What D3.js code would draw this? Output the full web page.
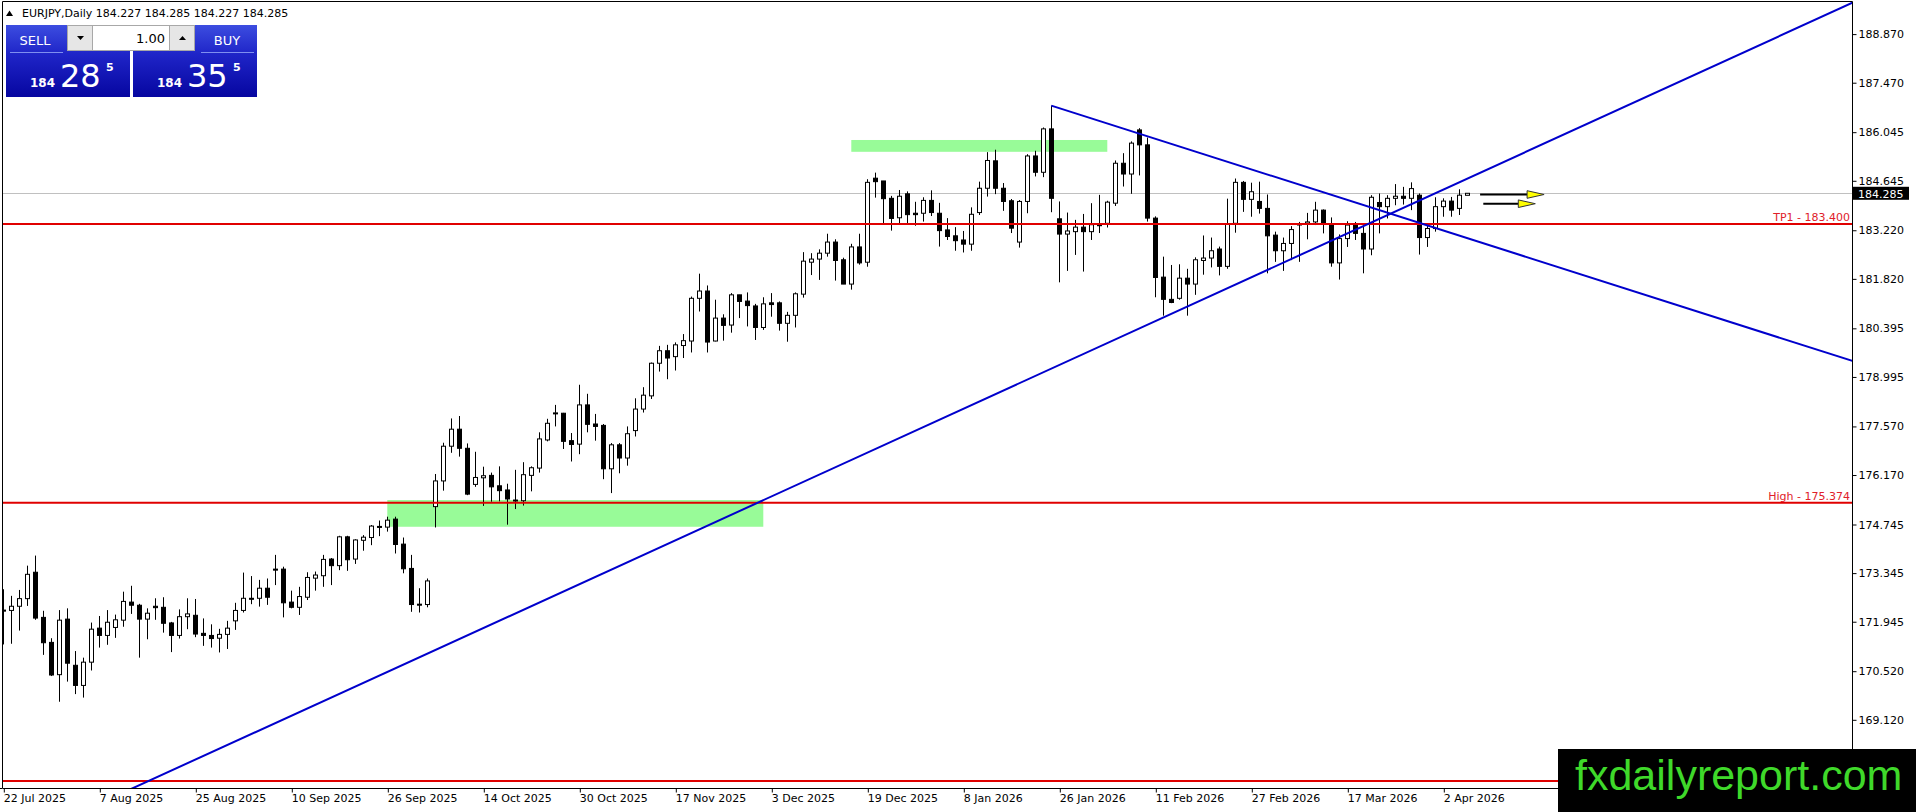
<!DOCTYPE html>
<html>
<head>
<meta charset="utf-8">
<script src="https://cdn.jsdelivr.net/npm/d3@7"></script>
<style>
  body { margin: 0; background: #fff; overflow: hidden; }
  svg { display: block; }
  text { font-family: "DejaVu Sans", sans-serif; }
</style>
</head>
<body>
<svg id="chart" width="1916" height="812"></svg>
<script>
// EURJPY daily bars, one entry per bar (bar 0 = 22 Jul 2025)
var open = [172.28,172.27,172.39,172.61,173.37,172.07,171.35,170.42,172.02,170.69,
  170.11,170.78,171.76,171.55,171.78,171.99,172.51,172.42,172.02,172.39,
  172.36,171.91,171.55,172.09,172.13,171.61,171.55,171.47,171.58,171.97,
  172.27,172.62,172.62,172.91,173.46,173.46,172.51,172.36,172.65,173.20,
  173.27,173.75,173.56,174.39,173.75,174.29,174.37,174.69,174.67,174.90,
  174.18,173.48,172.45,172.44,175.26,176.00,177.00,177.49,176.94,175.90,
  176.09,176.16,175.86,175.74,175.45,175.43,176.16,176.37,177.18,177.94,
  177.95,177.16,177.06,178.19,177.64,177.60,176.35,177.04,176.66,177.45,
  178.07,178.45,179.39,179.75,179.58,179.90,180.03,181.26,181.47,180.03,
  180.69,180.49,181.36,181.18,181.04,180.42,181.13,181.13,180.54,180.77,
  181.38,182.30,182.39,182.56,182.88,182.37,181.67,182.74,182.30,184.72,
  184.64,184.14,183.58,184.27,183.71,183.71,184.08,183.71,183.23,183.06,
  182.94,182.82,183.73,184.43,185.22,184.43,184.07,182.88,184.05,185.36,
  184.89,186.14,183.55,183.11,183.18,183.31,183.18,183.37,183.42,184.00,
  185.15,184.84,186.11,185.68,183.57,181.87,181.23,181.26,181.84,181.67,
  182.35,182.42,182.68,182.18,183.42,184.60,184.11,184.05,183.85,183.08,
  182.63,182.84,183.38,183.42,183.46,183.80,183.37,182.28,182.98,183.37,
  183.13,182.68,184.02,183.90,184.14,184.20,184.14,184.23,183.01,183.27,
  183.90,184.06,183.85,184.227];
var high = [172.88,172.69,172.86,173.56,173.85,172.26,171.47,172.28,172.33,171.10,
  170.91,171.92,172.11,172.28,172.15,172.81,172.98,172.46,172.33,172.62,
  172.65,171.94,172.30,172.62,172.60,172.04,171.87,171.74,171.97,172.49,
  173.36,173.26,173.15,173.19,173.87,173.53,172.84,172.95,173.37,173.39,
  173.87,173.78,174.42,174.42,174.32,174.44,174.73,174.86,174.97,174.97,
  174.37,173.87,172.91,173.19,176.20,177.10,177.80,177.87,177.08,176.84,
  176.41,176.24,176.42,175.92,176.32,176.54,176.42,177.40,177.79,178.19,
  177.96,177.38,178.77,178.51,177.93,177.64,177.09,177.09,177.57,178.38,
  178.70,179.41,179.89,179.92,179.99,180.23,181.31,181.97,181.63,181.22,
  180.80,181.41,181.36,181.43,181.10,181.29,181.41,181.17,180.87,181.43,
  182.59,182.56,182.67,183.12,182.96,182.43,182.83,183.12,184.69,184.88,
  184.64,184.21,184.38,184.34,184.04,184.17,184.37,184.01,183.57,183.31,
  183.20,183.88,184.62,185.47,185.54,184.58,184.12,184.09,185.41,185.51,
  186.18,186.81,184.05,183.73,183.52,183.69,184.00,184.24,184.07,185.23,
  185.44,185.78,186.16,185.89,183.62,182.46,182.22,182.24,182.11,182.44,
  183.07,183.01,182.75,184.13,184.71,184.64,184.59,184.62,184.25,183.18,
  183.01,183.34,183.46,183.72,184.04,183.82,183.59,183.10,183.48,183.46,
  183.42,184.23,184.28,184.23,184.55,184.47,184.60,184.28,183.42,184.17,
  184.14,184.18,184.40,184.285];
var low = [171.29,171.31,171.69,172.40,172.00,170.99,170.38,169.64,170.22,169.86,
  169.76,170.54,171.20,171.28,171.48,171.80,172.17,170.91,171.44,172.00,
  171.63,171.07,171.46,171.73,171.50,171.25,171.20,171.06,171.16,171.71,
  172.21,172.45,172.38,172.43,173.00,172.07,172.33,172.14,172.57,172.84,
  172.95,173.00,173.43,173.41,173.61,173.99,174.15,174.41,174.54,173.91,
  173.34,172.23,172.21,172.36,174.66,175.72,176.81,176.70,175.59,175.83,
  175.28,175.40,175.41,174.74,175.19,175.29,175.70,176.24,177.14,177.57,
  176.92,176.56,176.77,177.40,177.16,176.05,175.65,176.22,176.44,177.28,
  177.97,178.36,179.15,178.93,179.18,179.54,179.70,180.88,179.70,180.02,
  180.04,180.27,180.69,180.45,180.06,180.35,180.73,180.33,180.01,180.42,
  181.28,181.93,181.79,182.46,181.77,181.67,181.51,182.23,182.17,184.16,
  183.42,183.21,183.42,183.42,183.35,183.47,183.63,182.75,182.94,182.63,
  182.58,182.63,183.66,184.19,184.26,183.78,183.14,182.72,183.71,184.77,
  184.75,183.74,181.72,182.05,182.51,182.03,182.94,183.14,183.30,183.92,
  184.48,184.27,184.80,183.47,181.29,180.76,181.12,181.22,180.76,181.36,
  181.94,182.15,181.92,182.11,183.15,183.75,183.61,183.70,181.98,182.31,
  182.05,182.36,182.31,182.96,183.37,183.13,182.17,181.80,182.74,182.94,
  181.98,182.50,183.13,183.56,183.94,183.96,183.80,182.52,182.74,183.18,
  183.61,183.61,183.66,184.227];
var close = [172.25,172.39,172.61,173.31,172.05,171.34,170.41,171.99,170.75,170.11,
  170.78,171.73,171.55,171.93,172.00,172.53,172.42,172.02,172.19,172.35,
  171.90,171.55,172.09,172.17,171.59,171.55,171.46,171.58,171.76,172.27,
  172.62,172.60,172.91,172.65,173.44,172.49,172.36,172.67,173.22,173.29,
  173.74,173.56,174.39,173.73,174.30,174.38,174.70,174.68,174.87,174.17,
  173.47,172.44,172.44,173.12,176.00,177.00,177.49,176.94,175.62,176.10,
  176.15,175.83,175.72,175.48,175.44,176.18,176.38,177.21,177.66,177.96,
  177.14,177.05,178.19,177.63,177.57,176.35,177.04,176.66,177.36,178.07,
  178.47,179.39,179.75,179.54,179.92,180.04,181.26,181.47,180.00,180.69,
  180.48,181.36,181.17,181.05,180.42,181.10,181.08,180.54,180.77,181.39,
  182.33,182.39,182.56,182.88,182.35,181.67,182.74,182.28,184.60,184.62,
  184.13,183.56,184.20,183.67,183.67,184.08,183.73,183.21,183.04,182.92,
  182.82,183.68,184.43,185.23,184.43,184.05,183.28,184.05,185.36,184.89,
  186.14,184.14,183.11,183.20,183.31,183.18,183.38,183.38,184.03,185.15,
  184.84,185.73,185.68,183.57,181.86,181.23,181.14,181.84,181.67,182.37,
  182.42,182.63,182.18,183.40,184.60,184.11,184.33,183.85,183.06,182.63,
  182.84,183.24,183.40,183.46,183.80,183.39,182.28,182.98,183.37,183.13,
  182.68,184.17,183.90,184.14,184.20,184.14,184.42,183.01,183.27,183.90,
  184.06,183.80,184.23,184.285];

var priceTicks = [188.870,187.470,186.045,184.645,183.220,181.820,180.395,178.995,
  177.570,176.170,174.745,173.345,171.945,170.520,169.120];
var dateBars = [0,12,24,36,48,60,72,84,96,108,120,132,144,156,168,180];
var dateLabels = ["22 Jul 2025","7 Aug 2025","25 Aug 2025","10 Sep 2025","26 Sep 2025",
  "14 Oct 2025","30 Oct 2025","17 Nov 2025","3 Dec 2025","19 Dec 2025","8 Jan 2026",
  "26 Jan 2026","11 Feb 2026","27 Feb 2026","17 Mar 2026","2 Apr 2026"];

var bid = 184.285, ask = 184.355;
var levelPrices = [183.400, 175.374, 167.36];
var levelNames = ["TP1 - 183.400", "High - 175.374", ""];
// rectangles: bar from/to, price top/bottom
var zoneBars = [[48, 95], [106, 138]];
var zonePrices = [[175.45, 174.68], [185.82, 185.48]];
// trend lines: two anchor points (bar, price), drawn as rays to the right
var trendBars = [[10, 231.1], [131, 231.1]];
var trendPrices = [[166.50, 189.77], [186.81, 179.46]];
var arrowBars = [[184.6, 192.6], [185.0, 191.5]];
var arrowPrices = [184.25, 183.985];

var W = 1916, H = 812, axisX = 1852, axisY = 788;
var svg = d3.select("#chart");

var x = d3.scaleLinear().domain([0, 231.125]).range([3.3, 1852.3]);
var y = d3.scaleLinear().domain([169.12, 188.87]).range([719.8, 34.1]);

svg.append("rect").attr("width", W).attr("height", H).attr("fill", "#fff");

var defs = svg.append("defs");
defs.append("clipPath").attr("id", "plot")
  .append("rect").attr("x", 2).attr("y", 1).attr("width", axisX - 2).attr("height", axisY - 1);
var grad = defs.append("linearGradient").attr("id", "blue").attr("x1", 0).attr("y1", 0).attr("x2", 0).attr("y2", 1);
grad.append("stop").attr("offset", "0%").attr("stop-color", "#3c4de0");
grad.append("stop").attr("offset", "40%").attr("stop-color", "#1f25c8");
grad.append("stop").attr("offset", "100%").attr("stop-color", "#0606a0");

var plot = svg.append("g").attr("clip-path", "url(#plot)");

// background rectangles
plot.selectAll(".zone").data(zoneBars).enter().append("rect")
  .attr("x", function(d){ return x(d[0]); })
  .attr("width", function(d){ return x(d[1]) - x(d[0]); })
  .attr("y", function(d, i){ return y(zonePrices[i][0]); })
  .attr("height", function(d, i){ return y(zonePrices[i][1]) - y(zonePrices[i][0]); })
  .attr("fill", "#98fb98");

// bid line
plot.append("line").attr("x1", 0).attr("x2", axisX)
  .attr("y1", Math.round(y(bid)) + 0.5).attr("y2", Math.round(y(bid)) + 0.5)
  .attr("stroke", "#c0c0c0").attr("stroke-width", 1);

// candles
var bars = plot.selectAll(".bar").data(open).enter().append("g");
bars.append("line")
  .attr("x1", function(d, i){ return Math.round(x(i)) + 0.5; })
  .attr("x2", function(d, i){ return Math.round(x(i)) + 0.5; })
  .attr("y1", function(d, i){ return y(high[i]); })
  .attr("y2", function(d, i){ return y(low[i]); })
  .attr("stroke", "#000").attr("stroke-width", 1);
bars.append("rect")
  .attr("x", function(d, i){ return Math.round(x(i)) - 1.5; })
  .attr("width", 4)
  .attr("y", function(d, i){ return y(Math.max(open[i], close[i])); })
  .attr("height", function(d, i){ return Math.max(1, y(Math.min(open[i], close[i])) - y(Math.max(open[i], close[i]))); })
  .attr("fill", function(d, i){ return close[i] >= open[i] ? "#fff" : "#000"; })
  .attr("stroke", "#000").attr("stroke-width", 1);

// horizontal levels
levelPrices.forEach(function(p, i){
  plot.append("line").attr("x1", 0).attr("x2", axisX)
    .attr("y1", y(p)).attr("y2", y(p))
    .attr("stroke", "#e00000").attr("stroke-width", 2);
  if (levelNames[i]) {
    plot.append("text").attr("x", axisX - 2).attr("y", y(p) - 3)
      .attr("text-anchor", "end").attr("font-size", 11).attr("fill", "#e0202a")
      .text(levelNames[i]);
  }
});

// trend lines
trendBars.forEach(function(b, i){
  var p = trendPrices[i];
  var slope = (p[1] - p[0]) / (b[1] - b[0]);
  var bEnd = 245;
  plot.append("line")
    .attr("x1", x(b[0])).attr("y1", y(p[0]))
    .attr("x2", x(bEnd)).attr("y2", y(p[0] + slope * (bEnd - b[0])))
    .attr("stroke", "#0000cc").attr("stroke-width", 2);
});

// arrows
arrowBars.forEach(function(b, i){
  var yy = y(arrowPrices[i]), tip = x(b[1]), base = tip - 17;
  plot.append("line").attr("x1", x(b[0])).attr("x2", base)
    .attr("y1", yy).attr("y2", yy).attr("stroke", "#000").attr("stroke-width", 2);
  plot.append("path")
    .attr("d", "M" + base + "," + (yy - 3.8) + "L" + tip + "," + yy + "L" + base + "," + (yy + 3.8) + "Z")
    .attr("fill", "#ffff00").attr("stroke", "#333").attr("stroke-width", 1);
});

// frame and axes
svg.append("path")
  .attr("d", "M2.5,788.5V1.5H" + (axisX + 0.5) + "V" + (axisY + 0.5) + "H2.5")
  .attr("fill", "none").attr("stroke", "#000").attr("stroke-width", 1);
svg.append("line").attr("x1", 0).attr("x2", 2).attr("y1", axisY + 0.5).attr("y2", axisY + 0.5).attr("stroke", "#000");

var yAxis = svg.append("g").attr("transform", "translate(" + (axisX + 0.5) + ",0)")
  .call(d3.axisRight(y).tickValues(priceTicks).tickFormat(d3.format(".3f")).tickSize(4).tickPadding(2));
yAxis.select(".domain").remove();
yAxis.selectAll("text").attr("font-size", 11).attr("fill", "#000");

var xAxis = svg.append("g").attr("transform", "translate(0," + (axisY + 0.5) + ")")
  .call(d3.axisBottom(x).tickValues(dateBars).tickFormat(function(d, i){ return dateLabels[i]; }).tickSize(4).tickPadding(2));
xAxis.select(".domain").remove();
xAxis.selectAll(".tick line").attr("transform", "translate(0.5,0)");
xAxis.selectAll("text").attr("text-anchor", "start").attr("font-size", 11).attr("fill", "#000");

// bid price label on axis
svg.append("rect").attr("x", axisX + 1).attr("y", y(bid) - 6.5).attr("width", 56).attr("height", 13).attr("fill", "#000");
svg.append("text").attr("x", axisX + 6).attr("y", y(bid) + 4.5).attr("font-size", 11).attr("fill", "#fff")
  .text(d3.format(".3f")(bid));

// header
svg.append("path").attr("d", "M6,16L9.5,10.5L13,16Z").attr("fill", "#000");
svg.append("text").attr("x", 22).attr("y", 17).attr("font-size", 11).attr("fill", "#000")
  .text("EURJPY,Daily  " + [open[183], high[183], low[183], close[183]].map(d3.format(".3f")).join(" "));

// one click trading panel
var panel = svg.append("g");
[[6, "SELL", bid], [133, "BUY", ask]].forEach(function(p){
  var px = p[0];
  var s = d3.format(".3f")(p[2]);
  panel.append("rect").attr("x", px).attr("y", 25).attr("width", 124).attr("height", 72).attr("fill", "url(#blue)");
  panel.append("line").attr("x1", p[1] == "SELL" ? px + 4 : px + 68).attr("x2", p[1] == "SELL" ? px + 57 : px + 121)
    .attr("y1", 52.5).attr("y2", 52.5).attr("stroke", "#7f8ff0").attr("stroke-width", 1);
  panel.append("text").attr("x", p[1] == "SELL" ? px + 29 : px + 94).attr("y", 45)
    .attr("text-anchor", "middle").attr("font-size", 13).attr("fill", "#fff").text(p[1]);
  panel.append("text").attr("x", px + 24).attr("y", 87).attr("font-size", 12).attr("font-weight", "bold")
    .attr("fill", "#fff").text(s.slice(0, 3));
  panel.append("text").attr("x", px + 54).attr("y", 87).attr("font-size", 32).attr("fill", "#fff")
    .text(s.slice(4, 6));
  panel.append("text").attr("x", px + 100).attr("y", 71).attr("font-size", 11).attr("font-weight", "bold")
    .attr("fill", "#fff").text(s.slice(6, 7));
});
panel.append("rect").attr("x", 67.5).attr("y", 25.5).attr("width", 127).attr("height", 25)
  .attr("fill", "#fff").attr("stroke", "#a8a8a8");
panel.append("rect").attr("x", 67.5).attr("y", 25.5).attr("width", 25).attr("height", 25)
  .attr("fill", "#e6e6e6").attr("stroke", "#a8a8a8");
panel.append("rect").attr("x", 169.5).attr("y", 25.5).attr("width", 25).attr("height", 25)
  .attr("fill", "#e6e6e6").attr("stroke", "#a8a8a8");
panel.append("path").attr("d", "M77,36H84L80.5,40Z").attr("fill", "#000");
panel.append("path").attr("d", "M179,40H186L182.5,36Z").attr("fill", "#000");
panel.append("text").attr("x", 165).attr("y", 43).attr("text-anchor", "end").attr("font-size", 13)
  .attr("fill", "#000").text("1.00");

// watermark
svg.append("rect").attr("x", 1558).attr("y", 749).attr("width", W - 1558).attr("height", H - 749).attr("fill", "#000");
svg.append("text").attr("x", 1575).attr("y", 790).style("font-family", "'Liberation Sans', Arial, sans-serif")
  .attr("font-size", 43).attr("fill", "#3fd92a").text("fxdailyreport.com");
</script>
</body>
</html>
